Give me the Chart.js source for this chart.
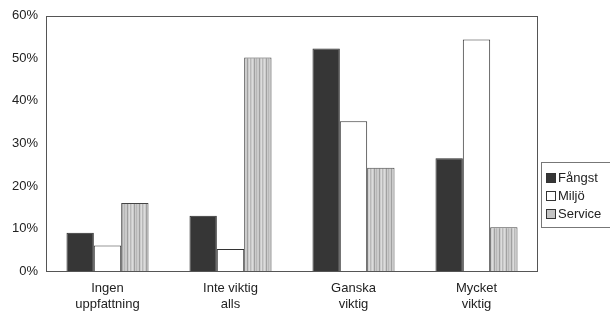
<!DOCTYPE html>
<html><head><meta charset="utf-8">
<script src="https://cdn.jsdelivr.net/npm/chart.js@4"></script>
<style>
html,body{margin:0;padding:0;background:#fff;}
#wrap{position:relative;width:610px;height:315px;}
#legend{position:absolute;left:541px;top:162px;width:80px;height:66px;border:1px solid #777;box-sizing:border-box;font-family:"Liberation Sans",Arial,sans-serif;font-size:13px;color:#222;padding:6px 0 0 4px;}
#legend div{height:18px;line-height:17px;white-space:nowrap;}
#legend span.sw{display:inline-block;width:8px;height:8px;border:1px solid #333;margin-right:2px;vertical-align:-1px;}
</style></head>
<body><div id="wrap"><canvas id="c" width="610" height="315"></canvas><div id="legend"></div></div>
<script>
const categories = [["Ingen","uppfattning"],["Inte viktig","alls"],["Ganska","viktig"],["Mycket","viktig"]];
const seriesNames = ["Fångst","Miljö","Service"];
const fangst = [9, 13, 52.3, 26.5];
const miljo = [6, 5.2, 35.2, 54.4];
const service = [16, 50.2, 24.3, 10.3];
const yTicks = [0,10,20,30,40,50,60];

function stripePattern(){
  const p = document.createElement('canvas');
  p.width = 12; p.height = 12;
  const g = p.getContext('2d');
  g.fillStyle = '#cbcbcb'; g.fillRect(0,0,12,12);
  g.fillStyle = '#a0a0a0'; g.fillRect(2,0,1,12); g.fillRect(7,0,1,12);
  g.fillStyle = '#b8b8b8'; g.fillRect(4,0,1,12); g.fillRect(10,0,1,12);
  g.fillStyle = '#dcdcdc'; g.fillRect(0,0,1,12); g.fillRect(9,0,1,12);
  return document.getElementById('c').getContext('2d').createPattern(p,'repeat');
}
const pat = stripePattern();
const fills = ['#363636','#ffffff',pat];
const legendFills = ['#363636','#ffffff','#c4c4c4'];

const lg = document.getElementById('legend');
seriesNames.forEach((n,i)=>{
  const d=document.createElement('div');
  d.innerHTML='<span class="sw" style="background:'+legendFills[i]+'"></span>'+n;
  lg.appendChild(d);
});

const boxPlugin = {id:'box', afterDatasetsDraw(chart){
  const a = chart.chartArea, ctx = chart.ctx;
  ctx.save(); ctx.strokeStyle='#555'; ctx.lineWidth=1;
  ctx.strokeRect(Math.round(a.left)+0.5, Math.round(a.top)+0.5, Math.round(a.right-a.left)-1, Math.round(a.bottom-a.top));
  ctx.restore();
}};

new Chart(document.getElementById('c'), {
  type:'bar',
  data:{labels:categories, datasets:[
    {label:seriesNames[0], data:fangst, backgroundColor:fills[0], borderColor:'#2a2a2a', borderWidth:1},
    {label:seriesNames[1], data:miljo, backgroundColor:fills[1], borderColor:'#333', borderWidth:1},
    {label:seriesNames[2], data:service, backgroundColor:fills[2], borderColor:'#444', borderWidth:1}
  ]},
  options:{
    responsive:false, animation:false,
    layout:{padding:{top:15,right:72,left:0,bottom:0}},
    datasets:{bar:{categoryPercentage:0.667, barPercentage:1}},
    plugins:{legend:{display:false}, tooltip:{enabled:false}},
    scales:{
      x:{grid:{display:false,drawTicks:false}, border:{display:false},
         ticks:{color:'#222', font:{family:'"Liberation Sans", Arial, sans-serif', size:13}, padding:10},
         afterFit(s){s.height=44;}},
      y:{min:0,max:60, grid:{display:false,drawTicks:false}, border:{display:false},
         afterBuildTicks(s){s.ticks=yTicks.map(v=>({value:v}));},
         ticks:{color:'#222', font:{family:'"Liberation Sans", Arial, sans-serif', size:13}, padding:8, callback:v=>v+'%'},
         afterFit(s){s.width=46;}}
    }
  },
  plugins:[boxPlugin]
});
</script></body></html>
